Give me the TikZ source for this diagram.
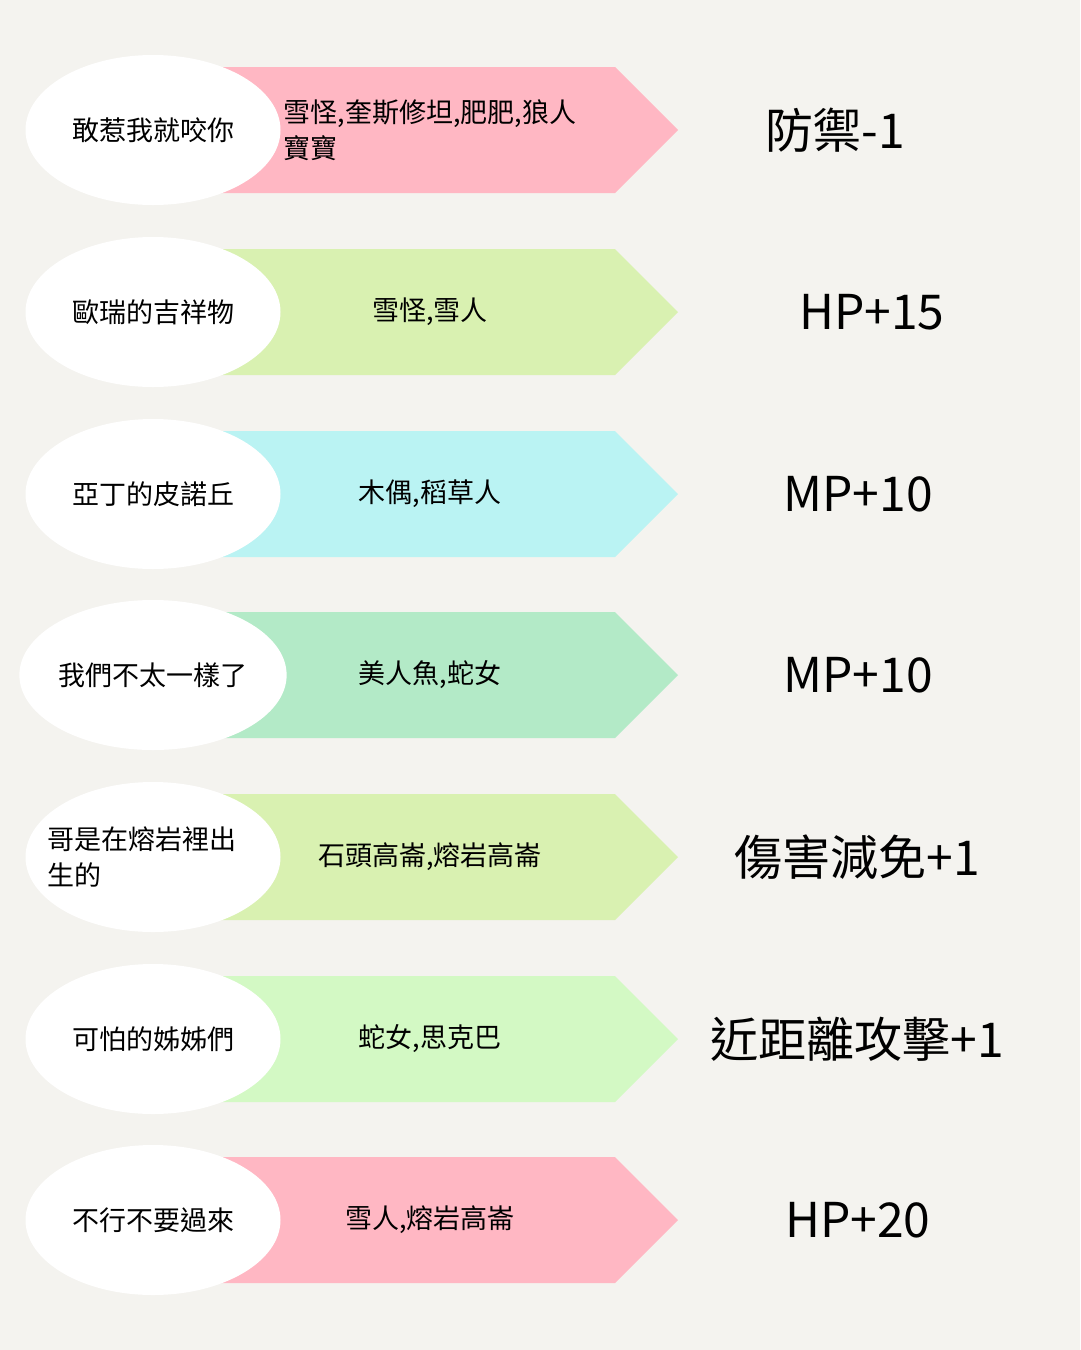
\documentclass[tikz,border=0pt]{standalone}
\usepackage{fontspec}
\setmainfont{Noto Sans CJK TC}
\definecolor{bgcol}{HTML}{F4F3EF}
\definecolor{rowpink}{HTML}{FFB7C3}
\definecolor{rowlime}{HTML}{D9F1B1}
\definecolor{rowcyan}{HTML}{BAF3F3}
\definecolor{rowmint}{HTML}{B3EAC7}
\definecolor{rowpale}{HTML}{D3F9C4}
\tikzset{
  monster/.style={ellipse, fill=white, minimum width=255pt, minimum height=150pt, inner sep=0pt, font=\fontsize{27}{36}\selectfont},
  loot/.style={font=\fontsize{27}{36}\selectfont, anchor=center},
  bonus/.style={font=\fontsize{48}{56}\selectfont, anchor=center}
}
\usetikzlibrary{shapes.geometric}
\begin{document}
\begin{tikzpicture}[x=1pt,y=-1pt]
  % Background
  \fill[bgcol] (0,0) rectangle (1080,1350);
  \useasboundingbox (0,0) rectangle (1080,1350);
  % Rows
  \foreach \n/\yc/\col/\who/\what/\gain/\gx in {
      1/130/rowpink/{敢惹我就咬你}/{}/{防禦-1}/835,
      2/312/rowlime/{歐瑞的吉祥物}/{雪怪,雪人}/{HP+15}/872,
      3/494/rowcyan/{亞丁的皮諾丘}/{木偶,稻草人}/{MP+10}/858,
      4/675/rowmint/{我們不太一樣了}/{美人魚,蛇女}/{MP+10}/858,
      5/857/rowlime/{}/{石頭高崙,熔岩高崙}/{傷害減免+1}/857,
      6/1039/rowpale/{可怕的姊姊們}/{蛇女,思克巴}/{近距離攻擊+1}/857,
      7/1220/rowpink/{不行不要過來}/{雪人,熔岩高崙}/{HP+20}/858} {
    \fill[\col] (215,\yc-63) -- (615,\yc-63) -- (678,\yc) -- (615,\yc+63) -- (215,\yc+63) -- cycle;
    \node (monster\n) [monster] at (153,\yc) {\who};
    \node (loot\n) [loot] at (430,\yc) {\what};
    \node (bonus\n) [bonus] at (\gx,\yc) {\gain};
  }
  % Two-line texts
  \node (loot1a) [loot, anchor=west, align=left] at (280,130) {雪怪,奎斯修坦,肥肥,狼人\\寶寶};
  \node (monster5a) [loot, anchor=west, align=left] at (44,857) {哥是在熔岩裡出\\生的};
\end{tikzpicture}
\end{document}
